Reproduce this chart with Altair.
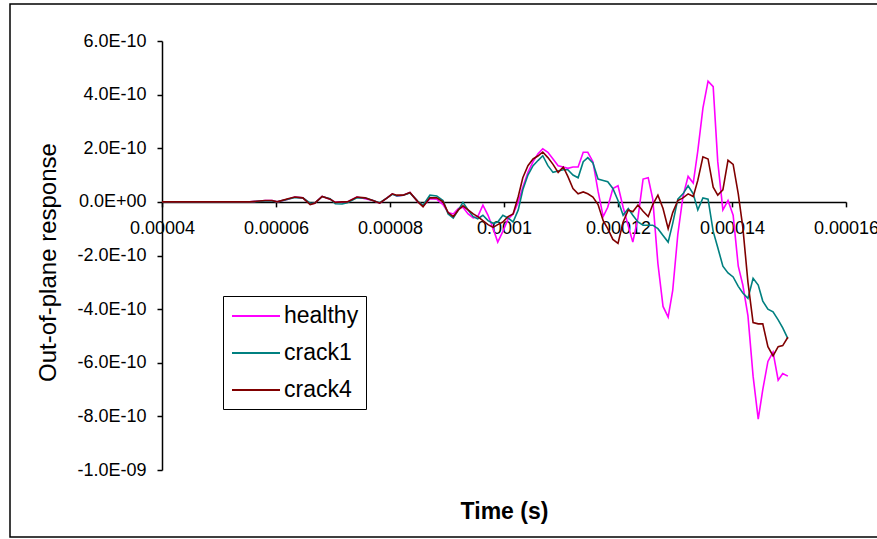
import altair as alt
import pandas as pd

# ---- data (time in microseconds, response in units of 1E-10) ----
time_us = [40.0, 55.4, 58.1, 59.3, 60.2, 62.1, 63.3, 64.7, 66.0, 66.8,
           68.1, 69.5, 70.4, 71.6, 72.5, 74.2, 75.6, 77.0, 78.2, 79.5,
           80.4, 81.2, 82.3, 83.5, 84.9, 85.8, 87.0, 88.2,
           89.3, 90.2, 91.1, 92.0, 92.8, 93.7, 94.6, 95.4, 96.3, 97.2,
           98.1, 98.9, 99.8, 100.7, 101.6, 102.5, 103.3, 104.2, 105.1, 106.0,
           106.8, 107.7, 108.6, 109.5, 110.4, 111.2, 112.1, 113.0, 113.9, 114.7,
           115.6, 116.5, 117.4, 118.2, 119.1, 120.0, 120.9, 121.8, 122.6, 123.5,
           124.4, 125.3, 126.1, 127.0, 127.9, 128.8, 129.6, 130.5, 131.4, 132.3,
           133.2, 134.0, 134.9, 135.8, 136.7, 137.5, 138.4, 139.3, 140.2, 141.1,
           141.9, 142.8, 143.7, 144.6, 145.4, 146.3, 147.2, 148.1, 148.9, 149.8]

healthy = [0, 0, 0.05, 0.05, 0, 0.1, 0.18, 0.15, -0.08, -0.05,
           0.2, 0.1, -0.02, 0, 0, 0.18, 0.12, 0.05, -0.05, 0.15,
           0.3, 0.22, 0.25, 0.35, 0.0, -0.15, 0.12, 0.1,
           -0.1, -0.4, -0.45, -0.25, -0.2, -0.45, -0.6, -0.55, -0.12, -0.5,
           -1.0, -1.5, -1.1, -0.65, -0.45, 0.0, 0.55, 1.1, 1.5, 1.8,
           1.98, 1.85, 1.6, 1.35, 1.3, 1.25, 1.3, 1.3, 1.85, 1.85,
           1.5, 0.4, -0.55, -0.2, 0.5, 0.6, -0.2, -0.9, -1.5, -0.6,
           0.85, 0.9, 0.1, -2.3, -3.9, -4.3, -3.3, -1.2, 0.2, 0.95,
           0.7, 1.9, 3.5, 4.5, 4.3, 1.5, -0.3, 0.05, -0.5, -2.4,
           -3.1, -4.25, -6.5, -8.1, -7.0, -5.95, -5.6, -6.65, -6.4, -6.5]

crack1 = [0, 0, 0.03, 0.03, 0, 0.1, 0.16, 0.15, -0.05, -0.05,
          0.2, 0.12, -0.07, -0.08, -0.03, 0.15, 0.15, 0.05, -0.03, 0.15,
          0.28, 0.22, 0.25, 0.33, 0.02, -0.12, 0.25, 0.22,
          0.05, -0.45, -0.6, -0.3, -0.02, -0.3, -0.55, -0.63, -0.5, -0.7,
          -0.8, -0.75, -0.5, -0.6, -0.75, -0.3, 0.45, 1.0, 1.35, 1.55,
          1.72, 1.35, 1.1, 1.15, 1.2, 1.2, 1.0, 0.9, 1.5, 1.65,
          1.45, 0.85, 0.8, 0.75, 0.5, 0.05, -0.5, -0.25, -0.5, -0.75,
          -0.87, -0.87, -0.87, -1.0, -1.25, -1.5, -0.8, 0.1, 0.3, 0.6,
          0.3, -0.3, 0.15, 0.1, -1.1, -1.7, -2.4, -2.65, -2.8, -3.15,
          -3.4, -3.6, -2.85, -3.1, -3.7, -4.0, -4.1, -4.4, -4.7, -5.1]

crack4 = [0, 0, 0.05, 0.05, 0, 0.12, 0.18, 0.15, -0.1, -0.05,
          0.2, 0.1, -0.02, 0, 0, 0.18, 0.15, 0.05, -0.05, 0.15,
          0.3, 0.25, 0.25, 0.35, 0.0, -0.18, 0.15, 0.15,
          0.0, -0.4, -0.55, -0.3, -0.15, -0.3, -0.45, -0.55, -0.7, -0.85,
          -0.95, -0.85, -0.75, -0.55, -0.45, 0.2, 0.9, 1.35, 1.6, 1.72,
          1.86, 1.65, 1.4, 1.1, 1.3, 0.95, 0.5, 0.3, 0.37, 0.3,
          0.18, -0.1, -0.7, -1.0, -1.4, -1.55, -0.75, -0.3, -0.37, -0.12,
          -0.35, -0.55, -0.1, 0.25, -0.25, -1.0, -0.4, 0.05, 0.15, 0.3,
          0.2, 0.8, 1.68, 1.6, 0.55, 0.25, 0.45, 1.55, 1.4, 0.3,
          -0.95, -3.0, -4.5, -4.55, -4.55, -5.4, -5.74, -5.4, -5.36, -5.05]

series_names = ["healthy", "crack1", "crack4"]
series_colors = ["#FF00FF", "#008080", "#800000"]

x_tick_values = [40, 60, 80, 100, 120, 140, 160]
x_tick_labels = ["0.00004", "0.00006", "0.00008", "0.0001", "0.00012", "0.00014", "0.00016"]
y_tick_values = [6, 4, 2, 0, -2, -4, -6, -8, -10]
y_tick_labels = ["6.0E-10", "4.0E-10", "2.0E-10", "0.0E+00", "-2.0E-10",
                 "-4.0E-10", "-6.0E-10", "-8.0E-10", "-1.0E-09"]

# ---- build table ----
rows = []
for i, (name, vals) in enumerate(zip(series_names, [healthy, crack1, crack4])):
    for t, v in zip(time_us, vals):
        rows.append({"t": t, "v": v, "series": name, "k": i})
df = pd.DataFrame(rows)


def label_expr(values, labels):
    expr = "''"
    for val, lab in reversed(list(zip(values, labels))):
        expr = f"datum.value == {val} ? '{lab}' : ({expr})"
    return expr


FONT = "Liberation Sans"
W, H = 684, 429
ymin, ymax = -10, 6
x_axis_offset = -(H * (0 - ymin) / (ymax - ymin))

lines = alt.Chart(df).mark_line(strokeWidth=1.6).encode(
    x=alt.X("t:Q",
            scale=alt.Scale(domain=[40, 160], nice=False, zero=False),
            axis=alt.Axis(values=x_tick_values,
                          labelExpr=label_expr(x_tick_values, x_tick_labels),
                          offset=x_axis_offset, grid=False,
                          title="Time (s)", titleX=342, titleY=310,
                          titleFontWeight="bold", titleFontSize=23,
                          titleBaseline="middle", titleAlign="center",
                          titleColor="black", titleFont=FONT,
                          tickSize=5, labelPadding=13, labelFontSize=18,
                          labelFont=FONT, labelColor="black",
                          labelFlush=False, labelOverlap=False,
                          domainColor="black", tickColor="black",
                          domainWidth=1.5, tickWidth=1.5)),
    y=alt.Y("v:Q",
            scale=alt.Scale(domain=[ymin, ymax], nice=False, zero=False),
            axis=alt.Axis(values=y_tick_values,
                          labelExpr=label_expr(y_tick_values, y_tick_labels),
                          grid=False,
                          title="Out-of-plane response", titleX=-114, titleY=221,
                          titleAngle=270, titleBaseline="middle", titleAlign="center",
                          titleFontWeight="normal", titleFontSize=24,
                          titleColor="black", titleFont=FONT,
                          tickSize=5, labelPadding=11, labelFontSize=18,
                          labelFont=FONT, labelColor="black",
                          labelFlush=False, labelOverlap=False,
                          domainColor="black", tickColor="black",
                          domainWidth=1.5, tickWidth=1.5)),
    color=alt.Color("series:N",
                    scale=alt.Scale(domain=series_names, range=series_colors),
                    legend=alt.Legend(title=None, orient="none",
                                      legendX=61, legendY=255,
                                      strokeColor="black", padding=7,
                                      labelFontSize=23, labelFont=FONT,
                                      labelColor="black",
                                      symbolType="M-2,0L2,0", symbolSize=576,
                                      symbolStrokeWidth=2, symbolOffset=13,
                                      labelOffset=15, rowPadding=12)),
    order=alt.Order("k:Q"),
)

border = alt.Chart(alt.Data(values=[{}])).mark_rect(
    fillOpacity=0, stroke="black", strokeWidth=1.5
).encode(
    x=alt.value(-152), x2=alt.value(720), y=alt.value(-37), y2=alt.value(496)
)

chart = alt.layer(border, lines).properties(
    width=W, height=H,
    autosize=alt.AutoSizeParams(type="none"),
    padding={"left": 162, "top": 41, "right": 31, "bottom": 69},
    background="white",
).configure(font=FONT, view=alt.ViewConfig(strokeWidth=0, stroke="transparent"))

chart.save("out.html", embed_options={"renderer": "svg", "actions": False})
